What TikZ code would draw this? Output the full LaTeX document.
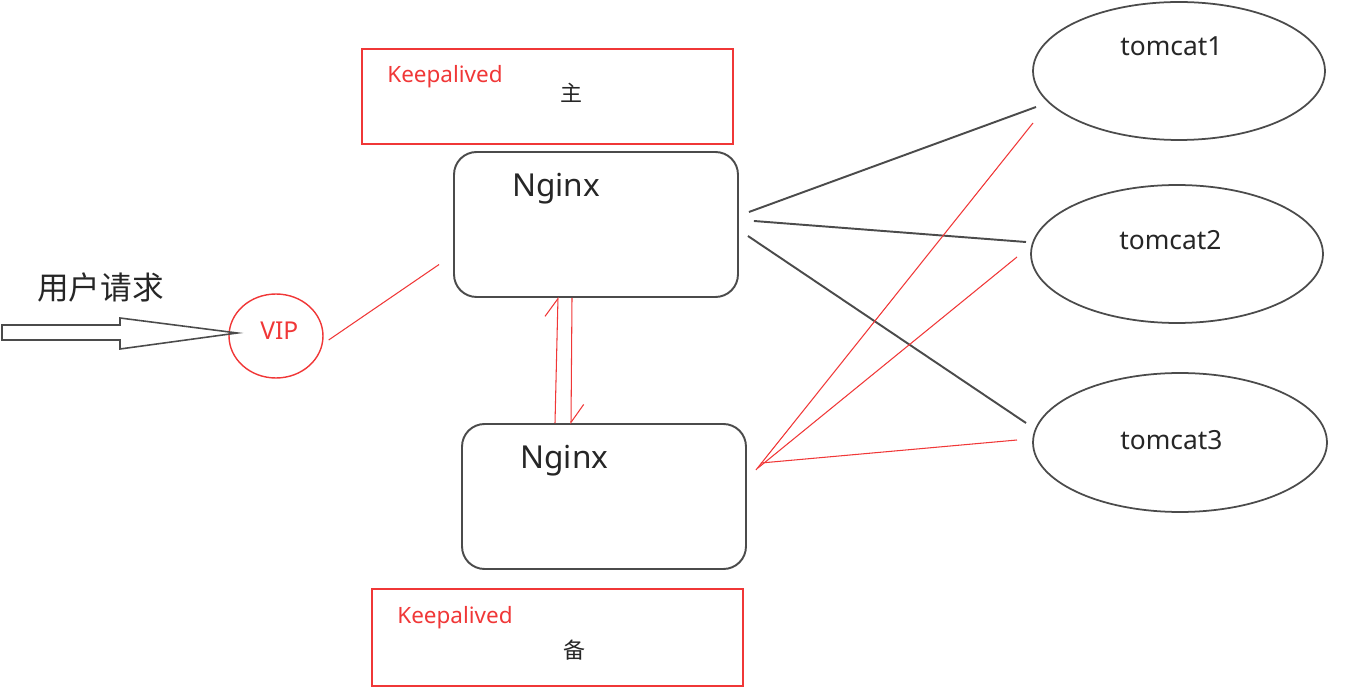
\documentclass[tikz,border=0pt]{standalone}
\usepackage{fontspec}
\setmainfont{Noto Sans}
\newfontfamily\cjk{Noto Sans CJK SC}
\usetikzlibrary{shapes.geometric,arrows.meta,calc}
\definecolor{kred}{RGB}{240,55,55}
\definecolor{kgray}{RGB}{75,75,75}
\tikzset{
  kabox/.style={draw=kred,line width=1pt,minimum width=7.42cm,minimum height=1.9cm,inner sep=0pt},
  ngxbox/.style={draw=kgray,line width=1.1pt,rounded corners=0.45cm,minimum width=5.68cm,minimum height=2.9cm,inner sep=0pt},
  tcnode/.style={draw=kgray,ellipse,line width=1pt,minimum width=5.84cm,minimum height=2.76cm,inner sep=0pt},
  vipnode/.style={draw=kred,ellipse,line width=0.8pt,minimum width=1.88cm,minimum height=1.68cm,inner sep=0pt},
  blkln/.style={draw=kgray,line width=1.1pt},
  redln/.style={draw=kred,line width=0.6pt},
  sync/.style={redln,-{Straight Barb[harpoon,length=0.36cm,width=0.5cm]}},
  txt/.style={anchor=base west,inner sep=0pt,text=black!85},
  redtxt/.style={txt,text=kred}
}
\begin{document}
\begin{tikzpicture}[x=0.02cm,y=-0.02cm]
  \useasboundingbox (0,0) rectangle (1363,692);
  % boxes
  \node[kabox] (kaA) at (547.5,96.5) {};
  \node[ngxbox] (ngxA) at (596,224.5) {};
  \node[ngxbox] (ngxB) at (604,496.5) {};
  \node[kabox,minimum height=1.94cm] (kaB) at (557.5,637.5) {};
  \node[vipnode] (vip) at (276,336) {};
  \node[tcnode] (tc1) at (1179,71) {};
  \node[tcnode] (tc2) at (1177,254) {};
  \node[tcnode,minimum width=5.88cm,minimum height=2.78cm] (tc3) at (1180,442.5) {};
  % texts
  \node[txt,font=\cjk\fontsize{18}{20}\selectfont] (req) at (37,300) {用户请求};
  \node[redtxt,font=\fontsize{12.8}{14}\selectfont] (kaAt) at (387,83) {Keepalived};
  \node[txt,font=\cjk\fontsize{12.5}{14}\selectfont] (kaAr) at (560,102) {主};
  \node[redtxt,font=\fontsize{12.8}{14}\selectfont] (kaBt) at (397,623) {Keepalived};
  \node[txt,font=\cjk\fontsize{12.5}{14}\selectfont] (kaBr) at (563,658) {备};
  \node[txt,font=\fontsize{18}{20}\selectfont] (ngxAt) at (512,197) {Nginx};
  \node[txt,font=\fontsize{18}{20}\selectfont] (ngxBt) at (520,469) {Nginx};
  \node[redtxt,font=\fontsize{14}{16}\selectfont] (vipt) at (260,340) {VIP};
  \node[txt,font=\fontsize{15}{17}\selectfont] (tc1t) at (1120,56) {tomcat1};
  \node[txt,font=\fontsize{15}{17}\selectfont] (tc2t) at (1119,250) {tomcat2};
  \node[txt,font=\fontsize{15}{17}\selectfont] (tc3t) at (1120,450) {tomcat3};
  % request arrow
  \coordinate (reqtail) at (2,332.5);
  \coordinate (reqtip) at ($(vip.west)+(9,-3)$);
  \draw[kgray,line width=0.9pt] ($(reqtail)+(0,-7.5)$) -- ++(118,0) -- ++(0,-7)
    -- (reqtip) -- ($(reqtail)+(118,16.5)$) -- ++(0,-9) -- ($(reqtail)+(0,7.5)$) -- cycle;
  % vip to nginx
  \draw[redln] ($(vip.east)+(5,4)$) -- ($(ngxA.west)+(-14,40)$);
  % nginx sync
  \draw[sync] ($(ngxB.north)+(-49,0)$) -- ($(ngxA.south)+(-38,-1)$);
  \draw[sync] ($(ngxA.south)+(-24,0)$) -- ($(ngxB.north)+(-33,1)$);
  % master to tomcats
  \draw[blkln] ($(ngxA.east)+(10,-12.5)$) -- ($(tc1)+(-143,36)$);
  \draw[blkln] ($(ngxA.east)+(15,-3.5)$) -- ($(tc2)+(-151,-12)$);
  \draw[blkln] ($(ngxA.east)+(9,11.5)$) -- ($(tc3)+(-154,-19.5)$);
  % backup to tomcats
  \draw[redln] ($(ngxB.east)+(9,-26.5)$) -- ($(tc1)+(-146,52)$);
  \draw[redln] ($(ngxB.east)+(11,-28.5)$) -- ($(tc2)+(-160,3)$);
  \draw[redln] ($(ngxB.east)+(14,-33.5)$) -- ($(tc3)+(-163,-2.5)$);
\end{tikzpicture}
\end{document}
